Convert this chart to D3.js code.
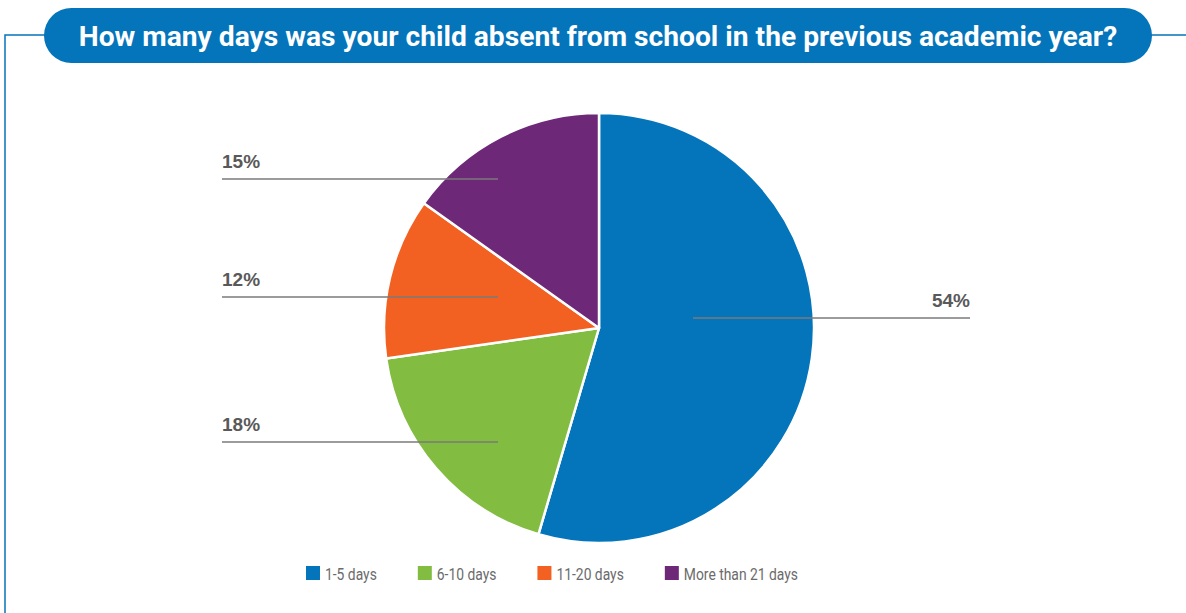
<!DOCTYPE html>
<html>
<head>
<meta charset="utf-8">
<script src="https://cdn.jsdelivr.net/npm/d3@7/dist/d3.min.js"></script>
<style>
  html, body { margin: 0; padding: 0; background: #fff; }
  svg { display: block; font-family: Roboto, "Liberation Sans", Arial, sans-serif; }
</style>
</head>
<body>
<svg id="chart" width="1186" height="613"></svg>
<script>
// Survey answers: days of school missed last academic year
const categories = ["1-5 days", "6-10 days", "11-20 days", "More than 21 days"];
const shares = [54, 18, 12, 15];
const colors = ["#0474bb", "#82bc41", "#f26122", "#6e2878"];
const title = "How many days was your child absent from school in the previous academic year?";

const W = 1186, H = 613;
const svg = d3.select("#chart");
const blue = "#0474bb";

// Frame lines running out of the title banner
svg.append("path")
  .attr("d", "M5,613 V35 H46 M1150,35 H1186")
  .attr("fill", "none").attr("stroke", blue).attr("stroke-width", 1.5);

// Title banner
svg.append("rect")
  .attr("x", 44).attr("y", 8).attr("width", 1108).attr("height", 55)
  .attr("rx", 27.5).attr("ry", 27.5).attr("fill", blue);
const titleText = svg.append("text")
  .attr("x", 598).attr("y", 46)
  .attr("text-anchor", "middle")
  .attr("fill", "#fff").attr("font-size", 24).attr("font-weight", 700)
  .text(title);
// size the title so it spans the banner with even margins
const titleW = titleText.node().getComputedTextLength();
titleText.attr("font-size", 24 * 1039 / titleW);

// Pie
const cx = 599, cy = 328, R = 215;
const pie = d3.pie().sort(null).value(d => d)(shares);
const arc = d3.arc().innerRadius(0).outerRadius(R);
const g = svg.append("g").attr("transform", `translate(${cx},${cy})`);
g.selectAll("path.slice").data(pie).join("path")
  .attr("class", "slice")
  .attr("d", arc)
  .attr("fill", (d, i) => colors[i])
  .attr("stroke", "#fff").attr("stroke-width", 2.5).attr("stroke-linejoin", "round");

// Leader lines and percentage labels
// label layout: side of the pie and vertical offset of the leader line from the centre
const labelLayout = [
  { side: "right", dy: -10 },
  { side: "left",  dy: 114 },
  { side: "left",  dy: -31 },
  { side: "left",  dy: -149 }
];
const labels = svg.append("g");
pie.forEach((d, i) => {
  const L = labelLayout[i];
  const y = cy + L.dy;
  const x0 = L.side === "right" ? cx + 94 : 222;
  const x1 = L.side === "right" ? 970 : cx - 101;
  labels.append("line")
    .attr("x1", x0).attr("x2", x1).attr("y1", y).attr("y2", y)
    .attr("stroke", "#7a7a7a").attr("stroke-width", 1.5);
  labels.append("text")
    .attr("x", L.side === "right" ? 970 : 222)
    .attr("y", y - 11)
    .attr("text-anchor", L.side === "right" ? "end" : "start")
    .attr("fill", "#595959").attr("font-size", 19).attr("font-weight", 700)
    .attr("font-family", "'Liberation Sans', Arial, sans-serif")
    .text(d.data + "%");
});

// Legend (narrow lettering)
const legend = svg.append("g").attr("transform", "translate(306,566)");
let lx = 0;
categories.forEach((c, i) => {
  const item = legend.append("g").attr("transform", `translate(${lx},0)`);
  item.append("rect").attr("width", 14).attr("height", 14).attr("fill", colors[i]);
  const t = item.append("text")
    .attr("x", 19).attr("y", 13.5)
    .attr("fill", "#6b6b6b").attr("font-size", 16.5)
    .text(c);
  const w = t.node().getComputedTextLength() * 0.84;
  t.attr("textLength", w).attr("lengthAdjust", "spacingAndGlyphs");
  lx += 19 + w + 41;
});
</script>
</body>
</html>
